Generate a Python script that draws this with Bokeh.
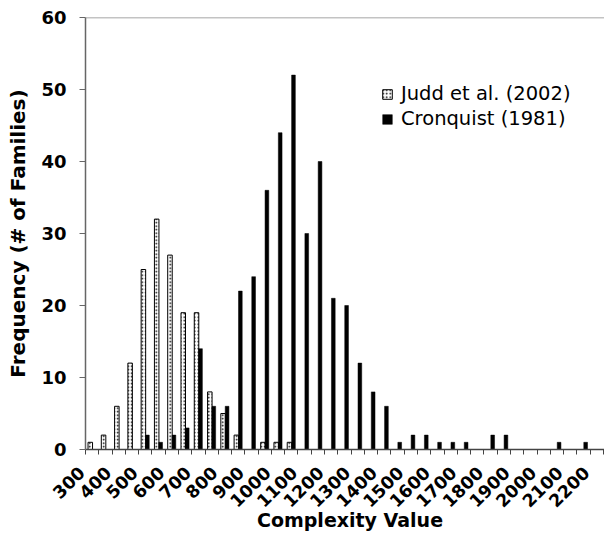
from bokeh.plotting import figure
from bokeh.models import FixedTicker, Span, Legend, LegendItem, ColumnDataSource, Range1d
from bokeh.layouts import column
from bokeh.embed import file_html
from bokeh.resources import INLINE
import math

# Bin left edges (width 50)
bin_starts = list(range(300, 2300, 50))
judd = [1, 2, 6, 12, 25, 32, 27, 19, 19, 8, 5, 2, 0, 1, 1, 1] + [0] * 24
cronquist = [0, 0, 0, 0, 2, 1, 2, 3, 14, 6, 6, 22, 24, 36, 44, 52, 30, 40, 21, 20,
             12, 8, 6, 1, 2, 2, 1, 1, 1, 0, 2, 2, 0, 0, 0, 1, 0, 1, 0, 0]
tick_labels = [str(v) for v in range(300, 2300, 100)]
y_ticks = [0, 10, 20, 30, 40, 50, 60]

FONT = "DejaVu Sans"
W = 604
LEFT = 85
X0, X1 = 300, 2254
MAIN_H = 462
STRIP_H = 72

p = figure(width=W, height=MAIN_H, output_backend="svg", toolbar_location=None,
           x_range=Range1d(X0, X1), y_range=(0, 60),
           min_border_left=LEFT, min_border_right=0, min_border_top=17, min_border_bottom=13)
p.frame_align = False
p.outline_line_color = None
p.grid.visible = False
p.background_fill_color = "white"
p.border_fill_color = "white"

jx = [b + 18 for b, v in zip(bin_starts, judd) if v > 0]
jy = [v for v in judd if v > 0]
cx = [b + 33 for b, v in zip(bin_starts, cronquist) if v > 0]
cy = [v for v in cronquist if v > 0]

rj = p.vbar(x=jx, top=jy, bottom=0, width=17, fill_color="white", line_color="black",
            line_width=1, hatch_pattern="dot", hatch_color="black", hatch_scale=3.5,
            hatch_weight=1)
rc = p.vbar(x=cx, top=cy, bottom=0, width=14, fill_color="black", line_color="black",
            line_width=0.5)

p.add_layout(Span(location=60, dimension="width", line_color="#888888", line_width=1.5))

xa = p.xaxis[0]
xa.ticker = FixedTicker(ticks=[], minor_ticks=bin_starts)
xa.major_tick_in = 0
xa.major_tick_out = 5
xa.minor_tick_in = 0
xa.minor_tick_out = 5
xa.axis_line_color = "#444444"
xa.axis_line_width = 1.5
xa.major_tick_line_color = "#444444"
xa.minor_tick_line_color = "#444444"

ya = p.yaxis[0]
ya.ticker = FixedTicker(ticks=y_ticks)
ya.major_label_text_font = FONT
ya.major_label_text_font_style = "bold"
ya.major_label_text_font_size = "18px"
ya.major_label_text_color = "black"
ya.major_label_standoff = 13
ya.major_tick_in = 0
ya.major_tick_out = 6
ya.minor_tick_line_color = None
ya.axis_label = "Frequency (# of Families)"
ya.axis_label_text_font = FONT
ya.axis_label_text_font_style = "bold"
ya.axis_label_text_font_size = "20px"
ya.axis_label_text_color = "black"
ya.axis_label_standoff = 8
ya.axis_line_color = "#666666"
ya.axis_line_width = 1.5
ya.major_tick_line_color = "#666666"

legend = Legend(items=[LegendItem(label="Judd et al. (2002)", renderers=[rj]),
                       LegendItem(label="Cronquist (1981)", renderers=[rc])],
                location=(296, 319), border_line_color=None, background_fill_alpha=0,
                label_text_font=FONT, label_text_font_size="19.5px", label_text_color="black",
                glyph_width=12, glyph_height=12, label_standoff=8, spacing=2,
                padding=0, margin=0)
p.add_layout(legend)

# Strip below the chart for the rotated tick labels and the axis title,
# using the same x scale (px per unit) extended over the left border.
k = (W - LEFT) / (X1 - X0)
strip = figure(width=W, height=STRIP_H, output_backend="svg", toolbar_location=None,
               x_range=Range1d(X0 - LEFT / k, X1), y_range=Range1d(0, STRIP_H),
               x_axis_location=None, y_axis_location=None,
               min_border=0, min_border_left=0, min_border_right=0,
               min_border_top=0, min_border_bottom=0)
strip.frame_align = False
strip.grid.visible = False
strip.outline_line_color = None
strip.background_fill_color = "white"
strip.border_fill_color = "white"

lab_src = ColumnDataSource(dict(x=[int(t) for t in tick_labels],
                                y=[STRIP_H - 7] * len(tick_labels),
                                text=tick_labels))
strip.text(x="x", y="y", text="text", source=lab_src, angle=math.pi / 4,
           x_offset=-4, text_align="right", text_baseline="middle",
           text_font={"value": FONT}, text_font_style="bold", text_font_size="17.5px",
           text_color="black")
strip.text(x=[(X0 + X1) / 2 + 5 / k], y=[15], text=["Complexity Value"],
           text_align="center", text_baseline="alphabetic",
           text_font={"value": FONT}, text_font_style="bold", text_font_size="19px",
           text_color="black")

layout = column(p, strip, spacing=0)
open("out.html", "w").write(file_html(layout, INLINE))
